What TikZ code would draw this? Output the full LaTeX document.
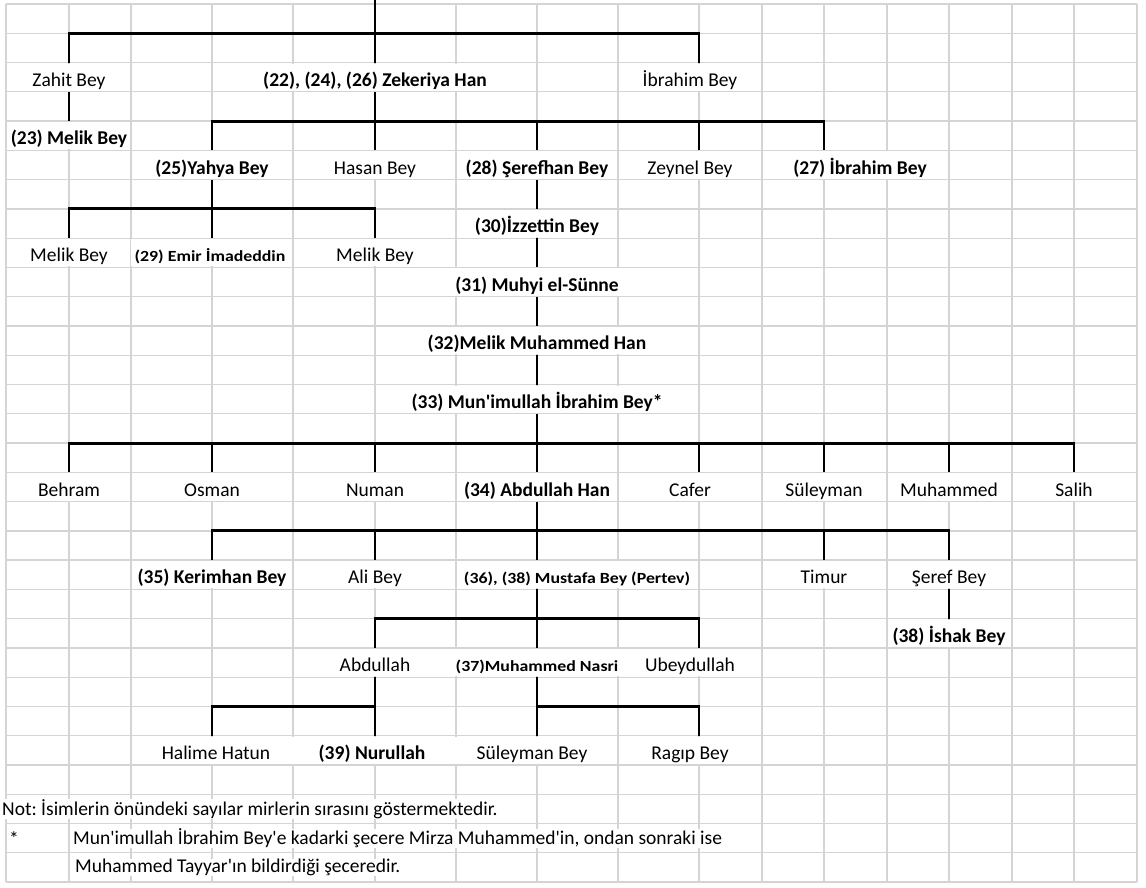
\documentclass[tikz,border=0pt]{standalone}
\usepackage{fontspec}
\setmainfont{Carlito}
\newfontfamily\smallbold[FakeStretch=1.15]{Carlito}
\usetikzlibrary{positioning}

\begin{document}
\frenchspacing
\begin{tikzpicture}[
  x=1pt, y=-29.27pt,
  gridline/.style={draw=black!17, line width=1.3pt},
  link/.style={draw=black, line width=2.9pt},
  cell/.style={fill=white, inner xsep=1pt, inner ysep=0pt, text height=22.7pt, text depth=4.5pt, outer sep=1pt},
  nm/.style={cell, font=\fontsize{19.5}{22}\selectfont},
  bd/.style={cell, font=\fontsize{19.5}{22}\selectfont\bfseries},
  sm/.style={cell, font=\fontsize{15.5}{18}\smallbold\bfseries},
  note/.style={fill=white, inner sep=0pt, anchor=west, font=\fontsize{19.5}{22}\selectfont},
  pa/.style={minimum width=120pt},
  pc/.style={minimum width=158pt},
  pi/.style={minimum width=140pt}
]
\useasboundingbox (0pt,4pt) rectangle (1146pt,-883pt);

% sheet grid
\foreach \r in {0,...,30}
  \draw[gridline] (6,\r) -- (1137,\r);
\foreach \c in {6,69,131,212,293,375,456,537,618,699,762,824,887,949,1012,1074,1137}
  \draw[gridline] (\c,0) -- (\c,30);

\coordinate (root) at (375pt,4pt);

% names
\node[nm,pa] (zahit) at (69,2.5) {Zahit Bey};
\node[bd,pc] (zek) at (375,2.5) {(22), (24), (26) Zekeriya Han};
\node[nm,pi] (ibra) at (690,2.5) {İbrahim Bey};
\node[bd,pa] (melik) at (69,4.5) {(23) Melik Bey};
\node[bd,pc] (yahya) at (212,5.5) {(25)Yahya Bey};
\node[nm,pc] (hasan) at (375,5.5) {Hasan Bey};
\node[bd,pc] (seref) at (537,5.5) {(28) Şerefhan Bey};
\node[nm,pi] (zeynel) at (690,5.5) {Zeynel Bey};
\node[bd] (ibrb) at (860,5.5) {(27) İbrahim Bey};
\node[bd,pc] (izz) at (537,7.5) {(30)İzzettin Bey};
\node[nm,pa] (melika) at (69,8.5) {Melik Bey};
\node[sm,pc] (emir) at (210,8.5) {(29) Emir İmadeddin};
\node[nm,pc] (melikb) at (375,8.5) {Melik Bey};
\node[bd,pc] (muhyi) at (537,9.5) {(31) Muhyi el-Sünne};
\node[bd,pc] (mmh) at (537,11.5) {(32)Melik Muhammed Han};
\node[bd,pc] (munim) at (537,13.5) {(33) Mun\textquotesingle imullah İbrahim Bey*};
\node[nm,pa] (behram) at (69,16.5) {Behram};
\node[nm,pc] (osman) at (212,16.5) {Osman};
\node[nm,pc] (numan) at (375,16.5) {Numan};
\node[bd,pc] (abdhan) at (537,16.5) {(34) Abdullah Han};
\node[nm,pi] (cafer) at (690,16.5) {Cafer};
\node[nm,pa] (suley) at (824,16.5) {Süleyman};
\node[nm,pa] (muham) at (949,16.5) {Muhammed};
\node[nm,pa] (salih) at (1074,16.5) {Salih};
\node[bd,pc] (kerim) at (212,19.5) {(35) Kerimhan Bey};
\node[nm,pc] (ali) at (375,19.5) {Ali Bey};
\node[sm,minimum width=238pt] (mustafa) at (577,19.5) {(36), (38) Mustafa Bey (Pertev)};
\node[nm,pa] (timur) at (824,19.5) {Timur};
\node[nm,pa] (serefb) at (949,19.5) {Şeref Bey};
\node[bd,pa] (ishak) at (949,21.5) {(38) İshak Bey};
\node[nm,pc] (abdl) at (375,22.5) {Abdullah};
\node[sm,pc] (nasri) at (537,22.5) {(37)Muhammed Nasri};
\node[nm,pi] (ubey) at (690,22.5) {Ubeydullah};
\node[nm,pc] (halime) at (216,25.5) {Halime Hatun};
\node[bd,pc] (nurul) at (372,25.5) {(39) Nurullah};
\node[nm,pc] (suleyb) at (532,25.5) {Süleyman Bey};
\node[nm,pi] (ragip) at (690,25.5) {Ragıp Bey};

% note lines
\node[note] (not) at (2,27.5) {Not: İsimlerin önündeki sayılar mirlerin sırasını göstermektedir.};
\node[note] (star) at (9,28.5) {*};
\node[note] (nota) at (73,28.5) {Mun\textquotesingle imullah İbrahim Bey\textquotesingle e kadarki şecere Mirza Muhammed\textquotesingle in, ondan sonraki ise};
\node[note] (notb) at (75,29.5) {Muhammed Tayyar\textquotesingle ın bildirdiği şeceredir.};

% top family
\draw[link] (root) -- (zek.north);
\draw[link] (zahit.north) -- ++(0,-1) -| ([xshift=9pt]ibra.north);
\draw[link] (zahit.south) -- (melik.north);

% Zekeriya Han
\draw[link] (zek.south) -- (hasan.north);
\draw[link] ([xshift=0pt]yahya.north) -- ++(0,-1) -| ([xshift=-36pt]ibrb.north);
\draw[link] (seref.north) -- ++(0,-1);
\draw[link] ([xshift=9pt]zeynel.north) -- ++(0,-1);

% Yahya Bey
\draw[link] (yahya.south) -- ([xshift=2pt]emir.north);
\draw[link] (melika.north) -- ++(0,-1) -| (melikb.north);

% main line
\draw[link] (seref.south) -- (izz.north);
\draw[link] (izz.south) -- (muhyi.north);
\draw[link] (muhyi.south) -- (mmh.north);
\draw[link] (mmh.south) -- (munim.north);
\draw[link] (munim.south) -- (abdhan.north);
\draw[link] (behram.north) -- ++(0,-1) -| (salih.north);
\foreach \n in {osman,numan,suley,muham}
  \draw[link] (\n.north) -- ++(0,-1);
\draw[link] ([xshift=9pt]cafer.north) -- ++(0,-1);

% Abdullah Han
\draw[link] (abdhan.south) -- ([xshift=-40pt]mustafa.north);
\draw[link] (kerim.north) -- ++(0,-1) -| (serefb.north);
\draw[link] (ali.north) -- ++(0,-1);
\draw[link] (timur.north) -- ++(0,-1);
\draw[link] (serefb.south) -- (ishak.north);

% Mustafa Bey
\draw[link] ([xshift=-40pt]mustafa.south) -- (nasri.north);
\draw[link] (abdl.north) -- ++(0,-1) -| ([xshift=9pt]ubey.north);

% Abdullah, Muhammed Nasri
\draw[link] (abdl.south) -- ([xshift=3pt]nurul.north);
\draw[link] ([xshift=-4pt]halime.north) -- ++(0,-1) -| ([xshift=3pt]nurul.north);
\draw[link] (nasri.south) -- ([xshift=5pt]suleyb.north);
\draw[link] ([xshift=5pt]suleyb.north) -- ++(0,-1) -| ([xshift=9pt]ragip.north);

\end{tikzpicture}
\end{document}
